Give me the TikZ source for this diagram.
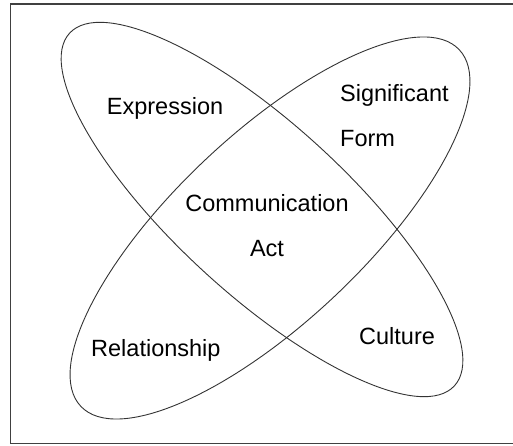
\documentclass[tikz,border=0pt]{standalone}
\usepackage{fontspec}
\setmainfont{Liberation Sans}
\begin{document}
\begin{tikzpicture}[x=1pt,y=1pt]
  \tikzset{lbl/.style={inner sep=0pt,font=\fontsize{23.5}{45}\selectfont}}
  \useasboundingbox (0,0) rectangle (513,446);
  % frame, open to the right
  \draw[line width=1.6pt,black!75] (10.5,442) rectangle (520,2.5);
  % the two crossing ellipses
  \draw[line width=0.9pt,black!80,rotate around={-42.5:(262,236.5)}]
    (262,236.5) ellipse [x radius=261,y radius=85];
  \draw[line width=0.9pt,black!80,rotate around={43.3:(270,218)}]
    (270,218) ellipse [x radius=260,y radius=94];
  % labels (base = last line)
  \node[lbl,anchor=base west] (expr) at (106.7,331) {Expression};
  \node[lbl,anchor=base west,align=left] (sigform) at (340,299.3) {Significant\\Form};
  \node[lbl,anchor=base,align=center] (comm) at (267,189) {Communication\\Act};
  \node[lbl,anchor=base west] (rel) at (91,89.3) {Relationship};
  \node[lbl,anchor=base west] (cult) at (359,101) {Culture};
\end{tikzpicture}
\end{document}
